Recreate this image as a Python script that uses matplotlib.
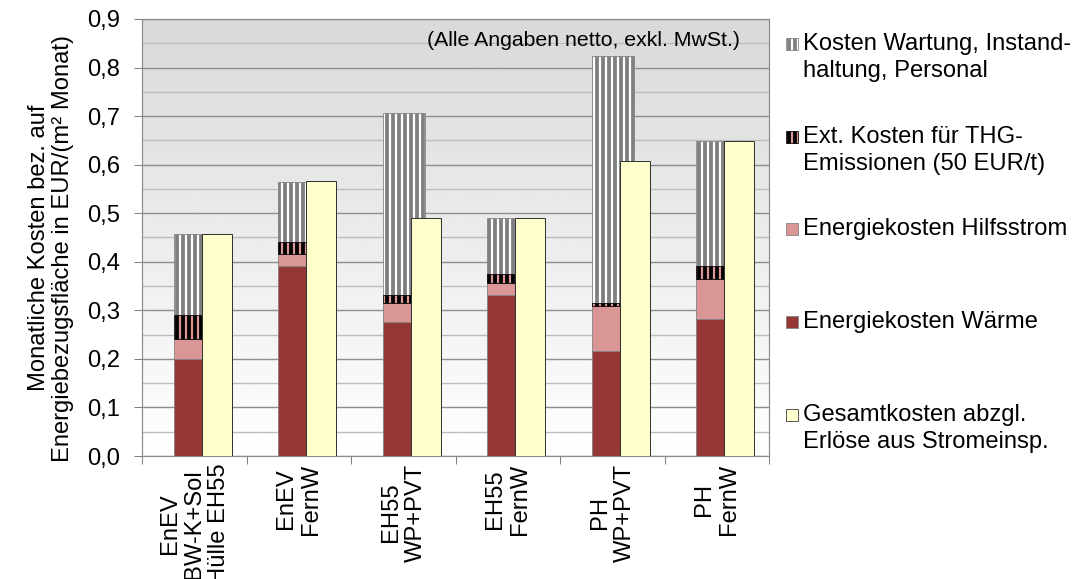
import numpy as np
import matplotlib
matplotlib.use("Agg")
import matplotlib.pyplot as plt
from matplotlib.patches import Rectangle
from matplotlib.ticker import MultipleLocator, FuncFormatter

# cost breakdown per variant, EUR per m² and month
variants = [
    "EnEV\nBW-K+Sol\nHülle EH55",
    "EnEV\nFernW",
    "EH55\nWP+PVT",
    "EH55\nFernW",
    "PH\nWP+PVT",
    "PH\nFernW",
]
waerme = [0.199, 0.391, 0.275, 0.332, 0.216, 0.282]
hilfsstrom = [0.041, 0.025, 0.041, 0.025, 0.092, 0.083]
thg = [0.050, 0.025, 0.016, 0.017, 0.007, 0.026]
wartung = [0.167, 0.124, 0.375, 0.116, 0.509, 0.258]
gesamt_netto = [0.457, 0.566, 0.490, 0.490, 0.607, 0.649]

legend_labels = [
    "Kosten Wartung, Instand-\nhaltung, Personal",
    "Ext. Kosten für THG-\nEmissionen (50 EUR/t)",
    "Energiekosten Hilfsstrom",
    "Energiekosten Wärme",
    "Gesamtkosten abzgl.\nErlöse aus Stromeinsp.",
]

C_WAERME = "#953735"
C_HILFS = "#d99694"
C_GESAMT = "#ffffcc"

DPI = 72
W, H = 1085, 579
plt.rcParams["font.family"] = ["Liberation Sans", "DejaVu Sans"]
plt.rcParams["hatch.linewidth"] = 3.8
FS = 23.8

fig = plt.figure(figsize=(W / DPI, H / DPI), dpi=DPI)
ax = fig.add_axes([142 / W, 1 - 456 / H, (769 - 142) / W, (456 - 19) / H])

x = np.arange(len(variants))
w_low = 0.268
w_wart = 0.40
x_left = x - 0.196
w_yel = 0.287
x_yel = x + 0.072

# grey-to-white gradient behind the plot
grad = np.linspace(0.85, 1.0, 256).reshape(-1, 1)
ax.imshow(grad, cmap="gray", vmin=0, vmax=1, aspect="auto", origin="upper",
          extent=(-0.5, 5.5, 0.0, 0.9), zorder=0)
ax.set_facecolor("none")

b1 = np.array(waerme)
b2 = b1 + np.array(hilfsstrom)
b3 = b2 + np.array(thg)

ax.bar(x_left, wartung, width=w_wart, bottom=b3, align="edge",
       color="white", edgecolor="#808080", hatch="||", linewidth=0.8, zorder=1)
ax.bar(x_left, waerme, width=w_low, align="edge",
       color=C_WAERME, edgecolor="#7f7f7f", linewidth=0.8, zorder=2)
ax.bar(x_left, hilfsstrom, width=w_low, bottom=b1, align="edge",
       color=C_HILFS, edgecolor="#7f7f7f", linewidth=0.8, zorder=2)
ax.bar(x_left, thg, width=w_low, bottom=b2, align="edge",
       color=C_HILFS, edgecolor="black", hatch="||", linewidth=0.8, zorder=2)
ax.bar(x_yel, gesamt_netto, width=w_yel, align="edge",
       color=C_GESAMT, edgecolor="#333333", linewidth=1.0, zorder=3)

ax.set_xlim(-0.5, 5.5)
ax.set_ylim(0, 0.9)

ax.yaxis.set_major_locator(MultipleLocator(0.1))
ax.yaxis.set_minor_locator(MultipleLocator(0.05))
ax.yaxis.set_major_formatter(FuncFormatter(lambda v, p: f"{v:.1f}".replace(".", ",")))
ax.set_axisbelow(True)
ax.grid(axis="y", which="major", color="#8e8e8e", linewidth=1.4)
ax.grid(axis="y", which="minor", color="#bdbdbd", linewidth=1.4)

ax.set_xticks(x)
ax.set_xticklabels(variants, rotation=90, ha="center", va="top",
                   multialignment="center", fontsize=FS, linespacing=1.15)
ax.set_xticks(np.arange(-0.5, 6.0, 1.0), minor=True)
ax.tick_params(axis="x", which="major", length=0, pad=7.5)
ax.tick_params(axis="x", which="minor", length=8, color="#808080", width=1)
ax.tick_params(axis="y", which="major", length=8, color="#808080", width=1,
               labelsize=FS, pad=14)
ax.tick_params(axis="y", which="minor", length=0)

for s in ax.spines.values():
    s.set_color("#8c8c8c")
    s.set_linewidth(1.2)

ax.text(5.22, 0.855, "(Alle Angaben netto, exkl. MwSt.)", ha="right", va="center",
        fontsize=21.2, zorder=4)

fig.text(51 / W, 1 - 248 / H,
         "Monatliche Kosten bez. auf\nEnergiebezugsfläche in EUR/(m² Monat)",
         rotation=90, ha="center", va="center", multialignment="center",
         fontsize=FS, linespacing=1.1)

# legend drawn by hand so the markers sit on the first text line
marker_y = [44, 137, 229, 322, 415]
line_gap = 27
styles = [
    dict(facecolor="white", edgecolor="#808080", hatch="||"),
    dict(facecolor=C_HILFS, edgecolor="black", hatch="||"),
    dict(facecolor=C_HILFS, edgecolor="#808080"),
    dict(facecolor=C_WAERME, edgecolor="#808080"),
    dict(facecolor=C_GESAMT, edgecolor="#333333"),
]
for y0, lab, st in zip(marker_y, legend_labels, styles):
    fig.add_artist(Rectangle((786 / W, 1 - (y0 + 6) / H), 12 / W, 12 / H,
                             transform=fig.transFigure, linewidth=0.8, **st))
    for k, line in enumerate(lab.split("\n")):
        fig.text(803 / W, 1 - (y0 + k * line_gap) / H, line,
                 ha="left", va="center", fontsize=FS)

fig.savefig("out.png", dpi=DPI)
